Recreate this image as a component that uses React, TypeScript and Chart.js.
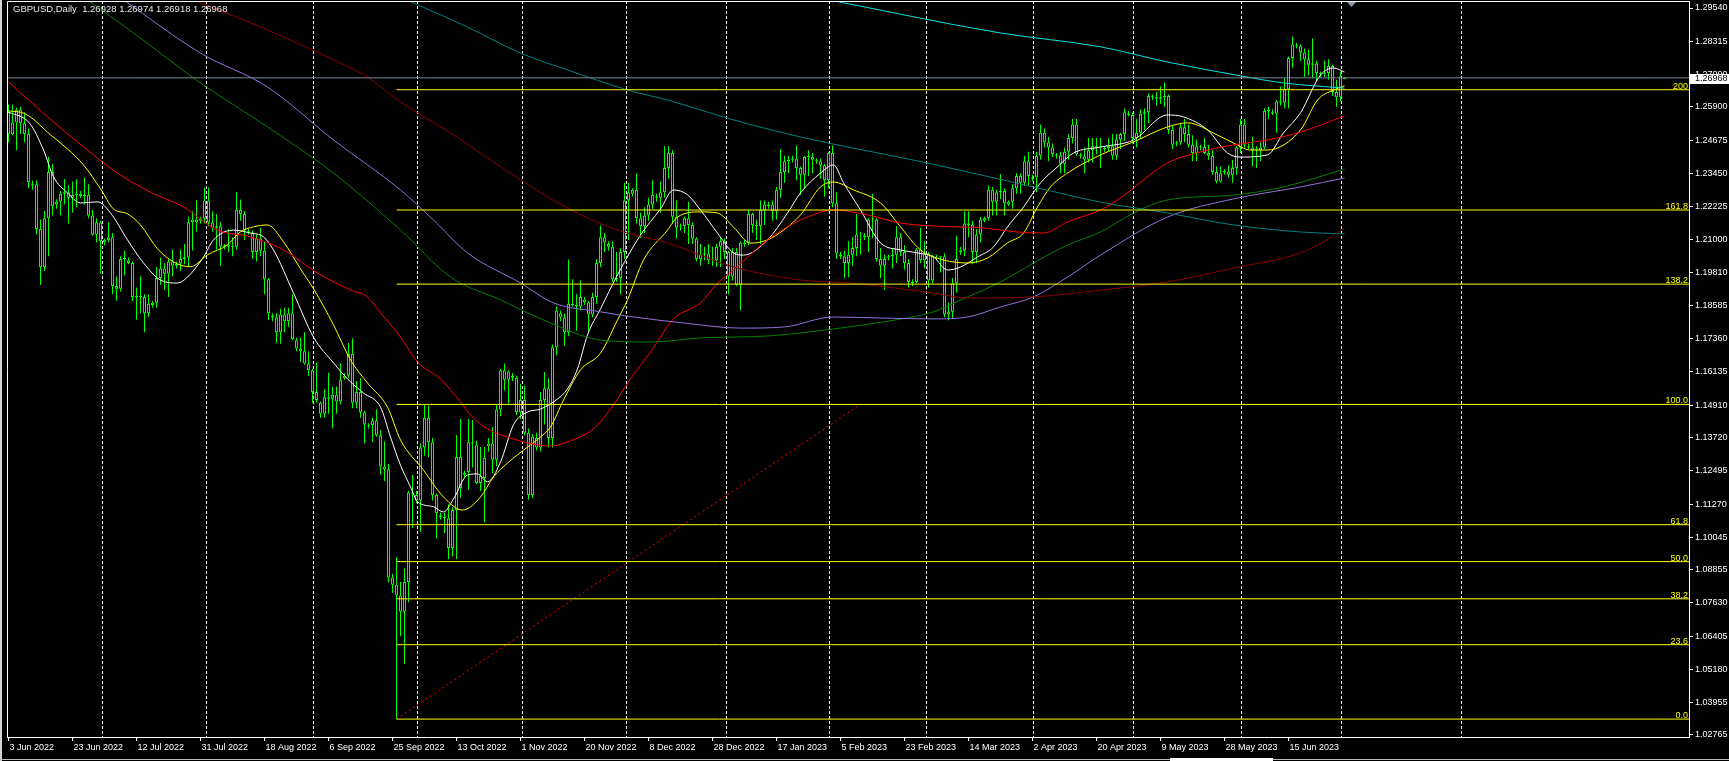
import React, { useEffect, useRef } from 'react';
import { Chart, registerables } from 'chart.js';

Chart.register(...registerables);

const W = 1729;
const H = 761;
const FONT = '"Liberation Sans", Arial, sans-serif';

// ---- axis ranges (bar index / price) ----
const X_MIN = -0.375;
const X_MAX = 420.125;
const Y_MIN = 1.02691;
const Y_MAX = 1.29798;

const chartTitle = 'GBPUSD,Daily  1.26928 1.26974 1.26918 1.26968';
const bidPrice = 1.26968;

// ---- daily candles [open, high, low, close], bar 0 = 3 Jun 2022 ----
const candles: number[][] = [
  [1.2570,1.2599,1.2460,1.2489],
  [1.2489,1.2599,1.2485,1.2532],[1.2532,1.2587,1.2430,1.2580],[1.2580,1.2590,1.2490,1.2530],[1.2530,1.2570,1.2460,1.2490],[1.2490,1.2510,1.2290,1.2313],
  [1.2300,1.2318,1.2285,1.2305],[1.2305,1.2320,1.2120,1.2140],[1.2140,1.2175,1.1934,1.2000],[1.2000,1.2206,1.1985,1.2180],[1.2180,1.2406,1.2040,1.2350],[1.2350,1.2380,1.2190,1.2225],
  [1.2230,1.2250,1.2215,1.2240],[1.2240,1.2280,1.2190,1.2270],[1.2270,1.2324,1.2230,1.2275],[1.2275,1.2300,1.2160,1.2255],[1.2255,1.2315,1.2200,1.2265],[1.2265,1.2323,1.2220,1.2265],
  [1.2270,1.2280,1.2255,1.2262],[1.2262,1.2330,1.2230,1.2265],[1.2265,1.2305,1.2180,1.2190],[1.2190,1.2210,1.2115,1.2120],[1.2120,1.2180,1.2090,1.2165],[1.2165,1.2170,1.1975,1.2095],
  [1.2090,1.2105,1.2080,1.2100],[1.2100,1.2165,1.2090,1.2110],[1.2110,1.2125,1.1900,1.1930],[1.1930,1.1965,1.1876,1.1920],[1.1920,1.2040,1.1910,1.2030],[1.2030,1.2060,1.1970,1.2030],
  [1.2025,1.2035,1.2010,1.2015],[1.2015,1.2020,1.1875,1.1890],[1.1890,1.1925,1.1806,1.1890],[1.1890,1.1965,1.1830,1.1890],[1.1890,1.1900,1.1760,1.1830],[1.1830,1.1900,1.1815,1.1865],
  [1.1860,1.1875,1.1850,1.1868],[1.1868,1.2000,1.1850,1.1960],[1.1960,1.2035,1.1935,1.1995],[1.1995,1.2015,1.1915,1.1975],[1.1975,1.2030,1.1890,1.2020],[1.2020,1.2065,1.1965,1.2005],
  [1.2005,1.2020,1.1995,1.2012],[1.2012,1.2065,1.1985,1.2030],[1.2030,1.2085,1.2010,1.2035],[1.2035,1.2185,1.2000,1.2165],[1.2165,1.2205,1.2060,1.2175],[1.2175,1.2246,1.2130,1.2165],
  [1.2170,1.2185,1.2160,1.2178],[1.2178,1.2293,1.2160,1.2245],[1.2245,1.2293,1.2150,1.2165],[1.2165,1.2205,1.2130,1.2145],[1.2145,1.2195,1.2065,1.2150],[1.2150,1.2165,1.2004,1.2075],
  [1.2075,1.2085,1.2065,1.2080],[1.2080,1.2140,1.2055,1.2075],[1.2075,1.2110,1.2040,1.2075],[1.2075,1.2276,1.2065,1.2210],[1.2210,1.2249,1.2170,1.2195],[1.2195,1.2205,1.2100,1.2135],
  [1.2130,1.2140,1.2120,1.2128],[1.2128,1.2135,1.2030,1.2055],[1.2055,1.2120,1.2020,1.2105],[1.2105,1.2145,1.2040,1.2060],[1.2060,1.2095,1.1900,1.1955],[1.1955,1.1960,1.1805,1.1830],
  [1.1820,1.1830,1.1800,1.1815],[1.1815,1.1830,1.1720,1.1760],[1.1760,1.1845,1.1717,1.1825],[1.1825,1.1850,1.1760,1.1800],[1.1800,1.1850,1.1780,1.1830],[1.1830,1.1900,1.1730,1.1735],
  [1.1730,1.1740,1.1690,1.1700],[1.1700,1.1740,1.1650,1.1690],[1.1690,1.1760,1.1640,1.1645],[1.1645,1.1690,1.1600,1.1620],[1.1620,1.1625,1.1500,1.1540],[1.1540,1.1648,1.1500,1.1510],
  [1.1500,1.1505,1.1445,1.1460],[1.1460,1.1550,1.1445,1.1520],[1.1520,1.1611,1.1460,1.1515],[1.1515,1.1560,1.1405,1.1530],[1.1530,1.1560,1.1460,1.1505],[1.1505,1.1645,1.1495,1.1585],
  [1.1590,1.1610,1.1585,1.1600],[1.1600,1.1720,1.1590,1.1680],[1.1680,1.1738,1.1480,1.1500],[1.1500,1.1580,1.1480,1.1540],[1.1540,1.1590,1.1445,1.1465],[1.1465,1.1470,1.1351,1.1420],
  [1.1415,1.1425,1.1405,1.1418],[1.1418,1.1445,1.1355,1.1435],[1.1435,1.1475,1.1375,1.1380],[1.1380,1.1400,1.1235,1.1265],[1.1265,1.1358,1.1211,1.1255],[1.1255,1.1275,1.0839,1.0857],
  [1.0857,1.0870,1.0800,1.0830],[1.0830,1.0932,1.0335,1.0790],[1.0790,1.0840,1.0640,1.0730],[1.0730,1.0890,1.0539,1.0840],[1.0840,1.1175,1.0765,1.1170],[1.1170,1.1234,1.1040,1.1165],
  [1.1160,1.1175,1.1130,1.1140],[1.1140,1.1350,1.1025,1.1335],[1.1335,1.1495,1.1305,1.1445],[1.1445,1.1490,1.1300,1.1355],[1.1355,1.1370,1.1140,1.1160],[1.1160,1.1165,1.1000,1.1094],
  [1.1085,1.1095,1.1070,1.1079],[1.1079,1.1095,1.1020,1.1075],[1.1075,1.1125,1.0924,1.0965],[1.0965,1.1115,1.0935,1.1105],[1.1105,1.1381,1.0925,1.1300],[1.1300,1.1440,1.1150,1.1186],
  [1.1235,1.1250,1.1225,1.1241],[1.1245,1.1440,1.1180,1.1355],[1.1355,1.1437,1.1262,1.1350],[1.1344,1.1360,1.1200,1.1205],[1.1205,1.1337,1.1175,1.1230],[1.1223,1.1337,1.1059,1.1297],
  [1.1340,1.1370,1.1320,1.1350],[1.1350,1.1410,1.1240,1.1290],[1.1290,1.1495,1.1265,1.1475],[1.1475,1.1624,1.1450,1.1620],[1.1620,1.1645,1.1545,1.1585],[1.1585,1.1620,1.1490,1.1615],
  [1.1600,1.1610,1.1580,1.1592],[1.1592,1.1600,1.1455,1.1465],[1.1465,1.1570,1.1440,1.1510],[1.1510,1.1563,1.1380,1.1390],[1.1390,1.1405,1.1143,1.1160],[1.1160,1.1385,1.1150,1.1375],
  [1.1370,1.1390,1.1325,1.1335],[1.1335,1.1540,1.1320,1.1510],[1.1510,1.1613,1.1420,1.1554],[1.1554,1.1590,1.1335,1.1370],[1.1370,1.1715,1.1335,1.1705],[1.1705,1.1855,1.1675,1.1840],
  [1.1830,1.1840,1.1800,1.1815],[1.1815,1.1830,1.1710,1.1760],[1.1760,1.2028,1.1745,1.1865],[1.1865,1.1955,1.1855,1.1860],[1.1860,1.1900,1.1765,1.1855],[1.1855,1.1950,1.1840,1.1890],
  [1.1880,1.1890,1.1860,1.1870],[1.1870,1.1875,1.1765,1.1825],[1.1825,1.1905,1.1815,1.1890],[1.1890,1.2030,1.1865,1.2015],[1.2015,1.2153,1.2000,1.2110],[1.2110,1.2125,1.2055,1.2090],
  [1.2085,1.2095,1.2060,1.2075],[1.2075,1.2095,1.1945,1.1955],[1.1955,1.2055,1.1945,1.1960],[1.1960,1.2070,1.1900,1.2055],[1.2055,1.2310,1.2030,1.2245],[1.2245,1.2310,1.2100,1.2275],
  [1.2270,1.2290,1.2260,1.2285],[1.2285,1.2345,1.2160,1.2180],[1.2180,1.2200,1.2107,1.2150],[1.2150,1.2220,1.2125,1.2190],[1.2190,1.2255,1.2170,1.2230],[1.2230,1.2320,1.2215,1.2265],
  [1.2260,1.2270,1.2240,1.2255],[1.2255,1.2315,1.2200,1.2275],[1.2275,1.2445,1.2255,1.2365],[1.2365,1.2446,1.2325,1.2420],[1.2420,1.2430,1.2160,1.2185],[1.2185,1.2245,1.2105,1.2145],
  [1.2150,1.2160,1.2135,1.2150],[1.2150,1.2185,1.2125,1.2180],[1.2180,1.2240,1.2085,1.2155],[1.2155,1.2165,1.2085,1.2105],[1.2105,1.2110,1.2020,1.2030],[1.2030,1.2085,1.2005,1.2045],
  [1.2045,1.2075,1.2025,1.2050],[1.2050,1.2085,1.2010,1.2025],[1.2025,1.2075,1.2005,1.2025],[1.2025,1.2085,1.2000,1.2075],[1.2075,1.2110,1.2000,1.2095],
  [1.2095,1.2105,1.2030,1.2055],[1.2055,1.2060,1.1900,1.1965],[1.1965,1.2070,1.1950,1.2055],[1.2055,1.2070,1.1930,1.1935],[1.1935,1.2095,1.1841,1.2090],
  [1.2085,1.2100,1.2075,1.2090],[1.2090,1.2210,1.2080,1.2195],[1.2195,1.2200,1.2125,1.2155],[1.2155,1.2175,1.2100,1.2150],[1.2150,1.2245,1.2085,1.2210],[1.2210,1.2245,1.2155,1.2230],
  [1.2225,1.2240,1.2215,1.2230],[1.2230,1.2245,1.2170,1.2205],[1.2205,1.2295,1.2175,1.2285],[1.2285,1.2435,1.2255,1.2350],[1.2350,1.2410,1.2310,1.2390],[1.2390,1.2410,1.2345,1.2395],
  [1.2395,1.2410,1.2385,1.2400],[1.2400,1.2448,1.2320,1.2365],[1.2365,1.2370,1.2265,1.2340],[1.2340,1.2410,1.2290,1.2405],[1.2405,1.2430,1.2335,1.2405],[1.2405,1.2420,1.2345,1.2395],
  [1.2390,1.2400,1.2380,1.2390],[1.2390,1.2400,1.2325,1.2375],[1.2375,1.2380,1.2260,1.2320],[1.2320,1.2425,1.2290,1.2420],[1.2420,1.2448,1.2220,1.2235],[1.2235,1.2275,1.2030,1.2050],
  [1.2045,1.2055,1.2030,1.2040],[1.2040,1.2060,1.1960,1.2015],[1.2015,1.2095,1.1962,1.2045],[1.2045,1.2110,1.2005,1.2070],[1.2070,1.2195,1.2040,1.2120],[1.2120,1.2130,1.2045,1.2120],
  [1.2115,1.2125,1.2100,1.2110],[1.2110,1.2180,1.2055,1.2175],[1.2175,1.2270,1.2105,1.2175],[1.2175,1.2180,1.2020,1.2030],[1.2030,1.2070,1.1960,1.2005],[1.2005,1.2045,1.1915,1.2030],
  [1.2035,1.2045,1.2025,1.2040],[1.2040,1.2070,1.1995,1.2045],[1.2045,1.2150,1.2015,1.2110],[1.2110,1.2125,1.2040,1.2055],[1.2055,1.2080,1.1990,1.2015],[1.2015,1.2030,1.1925,1.1945],
  [1.1940,1.1955,1.1930,1.1945],[1.1945,1.2070,1.1940,1.2065],[1.2065,1.2145,1.2015,1.2025],[1.2025,1.2095,1.1995,1.2050],[1.2050,1.2055,1.1925,1.1950],[1.1950,1.2045,1.1940,1.2040],
  [1.2035,1.2045,1.2025,1.2035],[1.2035,1.2040,1.1980,1.2040],[1.2040,1.2050,1.1815,1.1825],[1.1825,1.1870,1.1803,1.1835],[1.1835,1.1960,1.1810,1.1940],[1.1940,1.2115,1.1905,1.2030],
  [1.2055,1.2075,1.2045,1.2060],[1.2060,1.2205,1.2040,1.2160],[1.2160,1.2205,1.2110,1.2155],[1.2155,1.2170,1.2010,1.2055],[1.2055,1.2140,1.2015,1.2120],[1.2120,1.2185,1.2090,1.2175],
  [1.2170,1.2185,1.2165,1.2180],[1.2180,1.2300,1.2170,1.2285],[1.2285,1.2295,1.2190,1.2240],[1.2240,1.2285,1.2190,1.2275],[1.2275,1.2343,1.2250,1.2280],[1.2280,1.2290,1.2190,1.2235],
  [1.2230,1.2245,1.2225,1.2240],[1.2240,1.2305,1.2215,1.2290],[1.2290,1.2345,1.2270,1.2335],[1.2335,1.2345,1.2270,1.2310],[1.2310,1.2410,1.2300,1.2390],[1.2390,1.2425,1.2300,1.2335],
  [1.2325,1.2340,1.2315,1.2330],[1.2330,1.2425,1.2275,1.2410],[1.2410,1.2525,1.2395,1.2495],[1.2495,1.2510,1.2440,1.2460],[1.2460,1.2480,1.2390,1.2440],[1.2440,1.2455,1.2405,1.2415],
  [1.2410,1.2420,1.2400,1.2412],[1.2412,1.2425,1.2345,1.2380],[1.2380,1.2440,1.2345,1.2425],[1.2425,1.2490,1.2395,1.2475],[1.2475,1.2545,1.2455,1.2525],[1.2525,1.2546,1.2410,1.2415],
  [1.2410,1.2420,1.2400,1.2408],[1.2408,1.2440,1.2345,1.2395],[1.2395,1.2475,1.2385,1.2430],[1.2430,1.2475,1.2385,1.2445],[1.2445,1.2475,1.2415,1.2440],[1.2440,1.2475,1.2365,1.2440],
  [1.2435,1.2445,1.2425,1.2438],[1.2438,1.2475,1.2425,1.2445],[1.2445,1.2490,1.2395,1.2410],[1.2410,1.2490,1.2395,1.2470],[1.2470,1.2495,1.2435,1.2490],[1.2490,1.2584,1.2465,1.2570],
  [1.2565,1.2575,1.2555,1.2560],[1.2560,1.2570,1.2455,1.2475],[1.2475,1.2545,1.2440,1.2495],[1.2495,1.2580,1.2475,1.2565],[1.2565,1.2585,1.2505,1.2570],[1.2570,1.2640,1.2530,1.2630],
  [1.2625,1.2635,1.2615,1.2625],[1.2625,1.2645,1.2595,1.2620],[1.2620,1.2665,1.2600,1.2625],[1.2625,1.2680,1.2590,1.2630],[1.2630,1.2635,1.2490,1.2505],[1.2505,1.2520,1.2435,1.2450],
  [1.2455,1.2465,1.2445,1.2460],[1.2460,1.2530,1.2450,1.2515],[1.2515,1.2545,1.2460,1.2490],[1.2490,1.2525,1.2440,1.2450],[1.2450,1.2485,1.2390,1.2420],[1.2420,1.2470,1.2390,1.2445],
  [1.2440,1.2450,1.2430,1.2442],[1.2442,1.2475,1.2415,1.2420],[1.2420,1.2450,1.2395,1.2410],[1.2410,1.2430,1.2340,1.2350],[1.2350,1.2370,1.2308,1.2315],[1.2315,1.2370,1.2310,1.2345],
  [1.2350,1.2360,1.2340,1.2352],[1.2352,1.2375,1.2330,1.2340],[1.2340,1.2395,1.2310,1.2365],[1.2365,1.2445,1.2340,1.2440],[1.2440,1.2545,1.2420,1.2525],[1.2525,1.2545,1.2440,1.2450],
  [1.2445,1.2455,1.2435,1.2440],[1.2440,1.2480,1.2370,1.2430],[1.2430,1.2445,1.2365,1.2430],[1.2430,1.2460,1.2390,1.2440],[1.2440,1.2585,1.2435,1.2575],[1.2575,1.2590,1.2545,1.2575],
  [1.2570,1.2580,1.2560,1.2565],[1.2565,1.2615,1.2495,1.2610],[1.2610,1.2665,1.2595,1.2605],[1.2605,1.2695,1.2585,1.2655],[1.2655,1.2775,1.2585,1.2770],[1.2770,1.2848,1.2735,1.2820],
  [1.2815,1.2825,1.2805,1.2815],[1.2815,1.2820,1.2760,1.2790],[1.2790,1.2805,1.2700,1.2765],[1.2765,1.2800,1.2705,1.2745],[1.2745,1.2842,1.2695,1.2750],[1.2750,1.2760,1.2685,1.2715],
  [1.2710,1.2720,1.2700,1.2712],[1.2712,1.2760,1.2700,1.2715],[1.2715,1.2765,1.2690,1.2740],[1.2740,1.2745,1.2630,1.2645],[1.2645,1.2690,1.2590,1.2625],[1.2625,1.2720,1.2610,1.2703],
  [1.26928,1.26974,1.26918,1.26968],
];

// ---- time axis ----
const dateLabels = [
  '3 Jun 2022', '23 Jun 2022', '12 Jul 2022', '31 Jul 2022', '18 Aug 2022', '6 Sep 2022', '25 Sep 2022',
  '13 Oct 2022', '1 Nov 2022', '20 Nov 2022', '8 Dec 2022', '28 Dec 2022', '17 Jan 2023', '5 Feb 2023',
  '23 Feb 2023', '14 Mar 2023', '2 Apr 2023', '20 Apr 2023', '9 May 2023', '28 May 2023', '15 Jun 2023',
];
const dateLabelBars = [0, 16, 32, 48, 64, 80, 96, 112, 128, 144, 160, 176, 192, 208, 224, 240, 256, 272, 288, 304, 320];
// month separators (dashed grid)
const monthGridBars = [23.4, 49.4, 76.3, 102.3, 128.4, 154.4, 179.4, 205.3, 229.4, 256.3, 281.3, 308.3, 333.3, 363.3];

// ---- price axis ----
const priceTicks = [
  1.29540, 1.28315, 1.27090, 1.25900, 1.24675, 1.23450, 1.22225, 1.21000, 1.19810, 1.18585, 1.17360, 1.16135,
  1.14910, 1.13720, 1.12495, 1.11270, 1.10045, 1.08855, 1.07630, 1.06405, 1.05180, 1.03955, 1.02765,
];

// ---- moving averages: [bar, price] ----
const maWhite: number[][] = [
  [0,1.2571],[5.25,1.2530],[8.75,1.2431],[11.25,1.2332],[14.75,1.2273],[18,1.2236],[22.25,1.2240],[25.5,1.2199],[29.75,1.2100],
  [33.75,1.2015],[38,1.1952],[42.25,1.1941],[44.75,1.1963],[48.75,1.2037],[51.25,1.2100],[56.25,1.2136],[60.5,1.2125],[63.75,1.2111],
  [66.25,1.2063],[71.25,1.1904],[76.25,1.1742],[81.25,1.1647],[85.5,1.1577],[88.75,1.1536],[93,1.1484],[95.5,1.1374],[98,1.1270],
  [100.5,1.1190],[102.25,1.1136],[106.25,1.1117],[108.75,1.1098],[111.25,1.1146],[114.75,1.1234],[117.25,1.1238],[119.75,1.1209],[123,1.1282],
  [126.25,1.1419],[129.75,1.1466],[133,1.1477],[137.25,1.1514],[139.75,1.1551],[142.25,1.1625],[144.75,1.1750],[148,1.1846],[152.25,1.1971],
  [158,1.2118],[163,1.2214],[166.25,1.2284],[169.75,1.2266],[173,1.2210],[177.25,1.2125],[181.25,1.2052],[183.75,1.2044],[189.75,1.2100],
  [194.75,1.2199],[198,1.2273],[203,1.2346],[206.25,1.2376],[208.75,1.2310],[213,1.2210],[218,1.2089],[223,1.2063],[227.25,1.2052],
  [231.25,1.2037],[234.75,1.1989],[238,1.2000],[242.25,1.2037],[246.25,1.2074],[249.75,1.2148],[253.75,1.2221],[258,1.2310],[262.25,1.2369],
  [266.25,1.2420],[273,1.2442],[281.25,1.2468],[289.75,1.2560],[293.75,1.2553],[299.75,1.2505],[304.75,1.2420],[308,1.2405],[314.75,1.2413],
  [318.75,1.2494],[323,1.2568],[328,1.2707],[331.25,1.2733],[334,1.2718],
];
const maYellow: number[][] = [
  [0,1.2575],[4.25,1.2564],[10.5,1.2487],[14.75,1.2435],[18.75,1.2376],[23,1.2288],[26.25,1.2214],[29.75,1.2196],[33,1.2155],
  [37.25,1.2067],[41.25,1.2019],[45.5,1.2001],[49.75,1.2045],[54.75,1.2082],[58,1.2130],[61.25,1.2148],[64.75,1.2155],[68.75,1.2093],
  [73,1.1993],[76.25,1.1920],[81.25,1.1787],[85.5,1.1658],[89.75,1.1573],[94.75,1.1484],[98,1.1363],[103.75,1.1252],[108.75,1.1153],
  [113.5,1.1105],[118,1.1153],[121.25,1.1227],[124.75,1.1278],[129.75,1.1337],[133,1.1374],[135.5,1.1411],[138.75,1.1510],[143,1.1621],
  [148,1.1683],[152.25,1.1805],[154.75,1.1879],[158.75,1.2026],[164.75,1.2136],[167.25,1.2184],[173,1.2203],[177.25,1.2199],[181.25,1.2147],
  [185.5,1.2088],[189.75,1.2100],[193.75,1.2136],[198,1.2192],[203,1.2295],[206.25,1.2313],[211.25,1.2284],[218,1.2236],[223,1.2148],
  [228,1.2063],[233.75,1.2026],[239.75,1.2015],[244.75,1.2033],[249.75,1.2089],[253.75,1.2125],[257.25,1.2221],[260.5,1.2295],[264.75,1.2346],
  [273,1.2413],[281.25,1.2461],[289.75,1.2516],[294.75,1.2531],[302.25,1.2486],[306.25,1.2457],[310.5,1.2431],[314.75,1.2431],[323,1.2505],
  [327.25,1.2615],[331.25,1.2652],[334,1.2667],
];
const maRed: number[][] = [
  [0,1.2682],[9.75,1.2553],[18.75,1.2443],[27.25,1.2346],[35.5,1.2276],[43.75,1.2221],[52.25,1.2136],[60.5,1.2111],[68.75,1.2063],
  [77.25,1.1978],[85.5,1.1915],[89.75,1.1890],[93,1.1831],[98,1.1742],[102.25,1.1650],[108,1.1588],[113,1.1503],[115.5,1.1455],
  [119.75,1.1404],[124.75,1.1374],[131.25,1.1348],[135.5,1.1341],[139.75,1.1356],[146.25,1.1404],[150.5,1.1477],[155.5,1.1588],[160.5,1.1687],
  [166.25,1.1809],[173,1.1868],[177.25,1.1940],[181.25,1.1989],[189.75,1.2100],[198,1.2173],[206.25,1.2210],[214.75,1.2192],[223,1.2162],
  [231.25,1.2151],[243.75,1.2144],[252.25,1.2129],[258.75,1.2125],[264.75,1.2166],[273,1.2210],[277.25,1.2247],[289.75,1.2383],[298,1.2424],
  [306.25,1.2450],[314.75,1.2468],[323,1.2497],[334,1.2556],
];
const maGreen: number[][] = [
  [19.75,1.2984],[31.25,1.2862],[48,1.2678],[64.75,1.2516],[81.25,1.2346],[98,1.2136],[110.5,1.1963],[123,1.1879],[135.5,1.1794],
  [148,1.1731],[160.5,1.1724],[173,1.1739],[189.75,1.1746],[206.25,1.1772],[218.75,1.1798],[231.25,1.1835],[239.75,1.1890],[248,1.1945],
  [256.25,1.2015],[264.75,1.2081],[273,1.2129],[281.25,1.2199],[289.75,1.2247],[306.25,1.2265],[318.75,1.2295],[334,1.2361],
];
const maPurple: number[][] = [
  [28.75,1.2984],[48,1.2788],[64.75,1.2663],[81.25,1.2468],[98,1.2284],[106.25,1.2173],[114.75,1.2052],[128,1.1941],[136.25,1.1868],
  [148,1.1835],[156.25,1.1816],[168.75,1.1794],[183,1.1775],[193.75,1.1779],[206.25,1.1816],[218.75,1.1812],[231.25,1.1809],[239.75,1.1816],
  [248,1.1853],[256.25,1.1890],[264.75,1.1963],[273,1.2044],[289.75,1.2184],[306.25,1.2251],[323,1.2295],[334,1.2328],
];
const maMaroon: number[][] = [
  [46.25,1.2984],[64.75,1.2873],[81.25,1.2763],[89.75,1.2700],[98,1.2608],[110.5,1.2494],[128,1.2321],[139.75,1.2217],[152.25,1.2136],
  [164.75,1.2089],[181.25,1.2000],[198,1.1952],[210.5,1.1941],[231.25,1.1904],[239.75,1.1886],[256.25,1.1890],[273,1.1915],[289.75,1.1945],
  [306.25,1.1996],[323,1.2052],[329,1.2095],[334,1.2144],
];
const maTeal: number[][] = [
  [98.5,1.2990],[114.75,1.2884],[128,1.2788],[139.75,1.2726],[154.75,1.2652],[164.75,1.2615],[181.25,1.2542],[198,1.2479],[229.75,1.2383],
  [256.25,1.2295],[273,1.2239],[289.75,1.2199],[306.25,1.2155],[323,1.2129],[334,1.2122],
];
const maAqua: number[][] = [
  [203,1.2990],[248,1.2862],[273,1.2811],[289.75,1.2755],[308,1.2704],[318.75,1.2678],[334,1.2659],
];

// ---- Fibonacci retracement ----
const fibLabels = ['0.0', '23.6', '38.2', '50.0', '61.8', '100.0', '138.2', '161.8', '200'];
const fibPrices = [1.0335, 1.0609, 1.0778, 1.0915, 1.1051, 1.1494, 1.1937, 1.2210, 1.2653];
const fibStartBar = 97;
const fibTrend: number[][] = [[97, 1.0335], [213, 1.1494]];

const toXY = (pts: number[][]) => pts.map(([x, y]) => ({ x, y }));

const maLine = (pts: number[][], color: string, width = 1) => ({
  type: 'line' as const,
  data: toXY(pts),
  xAxisID: 'x',
  yAxisID: 'y',
  borderColor: color,
  borderWidth: width,
  pointRadius: 0,
  fill: false,
  cubicInterpolationMode: 'monotone' as const,
  order: 5,
});

const chromePlugin = {
  id: 'mtChrome',
  afterDraw(chart: any) {
    const { ctx, chartArea: a } = chart;
    const ys = chart.scales.y;
    ctx.save();
    // window edges
    ctx.fillStyle = '#d4d4d4';
    ctx.fillRect(0, 0, 2, H);
    ctx.fillStyle = '#bdbdbd';
    ctx.fillRect(0, 759, W, 1);
    ctx.fillStyle = '#ffffff';
    ctx.fillRect(1170, 758, 103, 3);
    // plot frame (top + left)
    ctx.strokeStyle = '#ffffff';
    ctx.lineWidth = 1;
    ctx.beginPath();
    ctx.moveTo(Math.floor(a.left) + 0.5, a.bottom);
    ctx.lineTo(Math.floor(a.left) + 0.5, Math.floor(a.top) + 0.5);
    ctx.lineTo(a.right, Math.floor(a.top) + 0.5);
    ctx.stroke();
    // fib level labels
    ctx.font = `9px ${FONT}`;
    ctx.fillStyle = '#ffff00';
    ctx.textAlign = 'right';
    ctx.textBaseline = 'alphabetic';
    fibPrices.forEach((p, i) => {
      ctx.fillText(fibLabels[i], a.right - 1, Math.round(ys.getPixelForValue(p)) - 1);
    });
    // title
    ctx.fillStyle = '#e6e6e6';
    ctx.textAlign = 'left';
    ctx.textBaseline = 'middle';
    ctx.font = `9.5px ${FONT}`;
    ctx.fillText(chartTitle, 13, 9.5);
    // bid price box on the price axis
    const by = Math.round(ys.getPixelForValue(bidPrice));
    ctx.fillStyle = '#ffffff';
    ctx.fillRect(a.right + 1, by - 4, W - a.right - 1, 10);
    ctx.fillStyle = '#000000';
    ctx.font = `9px ${FONT}`;
    ctx.fillText(bidPrice.toFixed(5), a.right + 6, by + 1);
    // chart-shift marker
    ctx.fillStyle = '#8a96a3';
    ctx.beginPath();
    ctx.moveTo(1347, 2);
    ctx.lineTo(1356, 2);
    ctx.lineTo(1351.5, 7);
    ctx.closePath();
    ctx.fill();
    ctx.restore();
  },
};

export default function App() {
  const ref = useRef<HTMLCanvasElement>(null);

  useEffect(() => {
    const canvas = ref.current;
    if (!canvas) return;
    Chart.defaults.font.family = FONT;
    Chart.defaults.color = '#ffffff';

    const wickData = candles.map((c, i) => ({ x: i, y: [c[2], c[1]] }));
    const bodyData = candles.map((c, i) => ({ x: i, y: [c[0], c[3]] }));

    const fibDatasets = fibPrices.map((p) => ({
      type: 'line' as const,
      data: [{ x: fibStartBar, y: p }, { x: X_MAX, y: p }],
      xAxisID: 'x',
      yAxisID: 'y',
      borderColor: '#ffff00',
      borderWidth: 1,
      pointRadius: 0,
      fill: false,
      order: 2,
    }));

    const chart = new Chart(canvas, {
      type: 'bar',
      data: {
        datasets: [
          {
            type: 'bar',
            data: wickData as any,
            xAxisID: 'x',
            yAxisID: 'y',
            backgroundColor: '#00ff00',
            borderWidth: 0,
            barThickness: 1,
            grouped: false,
            inflateAmount: 0,
            order: 11,
          },
          {
            type: 'bar',
            data: bodyData as any,
            xAxisID: 'x',
            yAxisID: 'y',
            backgroundColor: '#000000',
            borderColor: '#00ff00',
            borderWidth: 1,
            borderSkipped: false,
            barThickness: 3,
            minBarLength: 1,
            grouped: false,
            inflateAmount: 0,
            order: 10,
          },
          maLine(maMaroon, '#8b0000'),
          maLine(maTeal, '#008080'),
          maLine(maPurple, '#9370db'),
          maLine(maGreen, '#008000'),
          maLine(maAqua, '#00e5e5', 1),
          maLine(maRed, '#ff0000'),
          maLine(maYellow, '#ffff00'),
          maLine(maWhite, '#ffffff'),
          {
            type: 'line',
            data: toXY(fibTrend),
            xAxisID: 'x',
            yAxisID: 'y',
            borderColor: '#ff0000',
            borderWidth: 1,
            borderDash: [2, 3],
            pointRadius: 0,
            fill: false,
            order: 3,
          },
          ...fibDatasets,
          {
            type: 'line',
            data: [{ x: X_MIN, y: bidPrice }, { x: X_MAX, y: bidPrice }],
            xAxisID: 'x',
            yAxisID: 'y',
            borderColor: '#778899',
            borderWidth: 1,
            pointRadius: 0,
            fill: false,
            order: 1,
          },
        ] as any,
      },
      options: {
        responsive: false,
        maintainAspectRatio: false,
        animation: false,
        devicePixelRatio: 1,
        events: [],
        layout: { padding: { left: 7, top: 1, right: 0, bottom: 0 } },
        plugins: { legend: { display: false }, tooltip: { enabled: false } },
        scales: {
          x: {
            type: 'linear',
            position: 'bottom',
            min: X_MIN,
            max: X_MAX,
            bounds: 'data',
            offset: false,
            afterBuildTicks: (s: any) => {
              s.ticks = dateLabelBars.map((v) => ({ value: v }));
            },
            afterFit: (s: any) => {
              s.height = 24;
              s.paddingLeft = 0;
              s.paddingRight = 0;
            },
            ticks: {
              autoSkip: false,
              maxRotation: 0,
              minRotation: 0,
              align: 'start',
              padding: 1,
              labelOffset: 1,
              color: '#ffffff',
              font: { size: 9, family: FONT },
              callback: (_v: any, i: number) => dateLabels[i],
            },
            grid: { display: true, offset: false, drawOnChartArea: false, drawTicks: true, tickLength: 4, color: '#ffffff' },
            border: { display: true, color: '#ffffff' },
          },
          xm: {
            type: 'linear',
            position: 'bottom',
            min: X_MIN,
            max: X_MAX,
            bounds: 'data',
            offset: false,
            afterBuildTicks: (s: any) => {
              s.ticks = monthGridBars.map((v) => ({ value: v }));
            },
            afterFit: (s: any) => {
              s.height = 0;
              s.paddingLeft = 0;
              s.paddingRight = 0;
            },
            ticks: { display: false, autoSkip: false },
            grid: { display: true, offset: false, drawOnChartArea: true, drawTicks: false, color: '#ffffff', lineWidth: 1 },
            border: { display: false, dash: [3, 2] },
          },
          y: {
            type: 'linear',
            position: 'right',
            min: Y_MIN,
            max: Y_MAX,
            bounds: 'data',
            afterBuildTicks: (s: any) => {
              s.ticks = priceTicks.map((v) => ({ value: v }));
            },
            afterFit: (s: any) => {
              s.width = 40;
              s.paddingTop = 0;
              s.paddingBottom = 0;
            },
            ticks: {
              autoSkip: false,
              padding: 2,
              color: '#ffffff',
              font: { size: 9, family: FONT },
              callback: (v: any) => Number(v).toFixed(5),
            },
            grid: { display: true, drawOnChartArea: false, drawTicks: true, tickLength: 4, color: '#ffffff' },
            border: { display: true, color: '#ffffff' },
          },
        },
      } as any,
      plugins: [chromePlugin],
    });

    return () => chart.destroy();
  }, []);

  return (
    <div style={{ position: 'fixed', left: 0, top: 0, width: W, height: H, background: '#000', overflow: 'hidden' }}>
      <canvas ref={ref} width={W} height={H} style={{ display: 'block', width: W, height: H }} />
    </div>
  );
}
